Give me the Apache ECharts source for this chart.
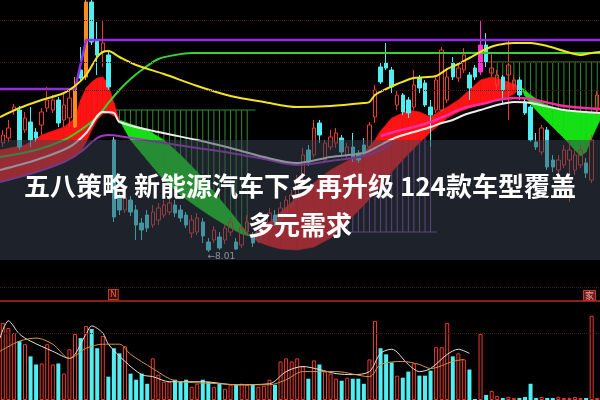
<!DOCTYPE html>
<html><head><meta charset="utf-8">
<script src="https://cdn.jsdelivr.net/npm/echarts@6/dist/echarts.min.js"></script>
<style>html,body{margin:0;padding:0;background:#000}#c{width:600px;height:400px}</style>
</head><body><div id="c"></div>
<script>
// ---- data: candles [open, close, lowest, highest]
const candles = [
[9.10,9.18,9.06,9.23],[9.15,9.25,9.11,9.33],[9.43,9.46,9.38,9.49],[9.43,9.06,9.03,9.47],[9.23,9.35,9.20,9.41],
[9.31,9.13,9.06,9.46],[9.21,9.15,9.11,9.25],[9.28,9.41,9.18,9.45],[9.45,9.53,9.41,9.66],[9.43,9.53,9.40,9.58],
[9.53,9.30,9.26,9.56],[9.33,9.48,9.26,9.61],[9.35,9.55,9.26,9.65],[9.26,9.66,9.25,9.76],[9.83,9.75,9.71,10.06],
[9.76,10.51,9.73,10.53],[10.51,10.11,10.08,10.53],[10.13,9.98,9.78,10.31],[10.01,10.10,9.86,10.33],[9.98,9.66,9.63,10.01],
[9.13,8.36,8.31,9.16],[8.56,8.43,8.38,8.60],[8.43,8.55,8.40,8.63],[8.53,8.41,8.37,8.57],[8.43,8.28,8.13,8.48],
[8.30,8.23,8.13,8.35],[8.38,8.25,8.21,8.43],[8.28,8.41,8.25,8.48],[8.33,8.45,8.28,8.50],[8.38,8.48,8.35,8.53],
[8.41,8.50,8.38,8.56],[8.48,8.40,8.36,8.53],[8.43,8.35,8.31,8.48],[8.38,8.28,8.25,8.41],[8.20,8.33,8.15,8.38],
[8.21,8.35,8.18,8.40],[8.31,8.17,8.10,8.35],[8.11,8.03,8.01,8.15],[8.13,8.23,8.10,8.27],[8.16,8.05,8.03,8.21],
[8.13,8.25,8.09,8.29],[8.21,8.31,8.17,8.35],[8.11,8.04,8.03,8.15],[8.08,8.25,8.05,8.28],[8.21,8.31,8.17,8.38],
[8.18,8.10,8.06,8.21],[8.13,8.25,8.10,8.28],[8.23,8.33,8.19,8.38],[8.28,8.40,8.25,8.45],[8.38,8.31,8.27,8.43],
[8.33,8.45,8.29,8.51],[8.41,8.53,8.38,8.57],[8.48,8.58,8.45,8.63],[8.58,8.73,8.53,8.78],[8.78,8.98,8.73,9.05],
[9.03,8.91,8.87,9.08],[8.98,9.25,8.95,9.33],[9.30,9.18,9.10,9.33],[8.93,9.10,8.91,9.13],[9.06,9.16,9.03,9.23],
[9.10,9.20,9.05,9.25],[9.15,9.01,8.98,9.18],[8.98,9.06,8.95,9.10],[9.06,8.95,8.91,9.20],[9.00,8.93,8.90,9.03],
[9.08,9.01,8.98,9.15],[9.06,9.28,9.03,9.31],[9.36,9.63,9.30,9.68],[9.86,9.71,9.69,9.91],[9.90,9.85,9.83,10.10],
[9.83,9.66,9.60,9.86],[9.48,9.58,9.43,9.63],[9.58,9.41,9.38,9.60],[9.53,9.40,9.35,9.56],[9.46,9.68,9.43,9.83],
[9.75,9.65,9.60,9.78],[9.70,9.48,9.46,9.73],[9.46,9.38,9.06,9.53],[9.43,9.73,9.40,9.78],[9.43,10.03,9.41,10.06],
[9.53,9.76,9.50,9.83],[9.90,9.76,9.73,9.96],[9.75,9.85,9.71,9.90],[9.83,9.98,9.80,10.05],[9.78,9.65,9.53,9.81],
[9.85,9.76,9.73,9.88],[9.81,10.08,9.78,10.33],[10.08,9.91,9.86,10.20],[9.80,9.85,9.77,10.00],[9.68,9.78,9.63,9.83],
[9.76,9.63,9.50,9.78],[9.78,9.88,9.33,10.13],[9.68,9.73,9.63,9.78],[9.73,9.58,9.53,9.76],[9.51,9.40,9.38,9.55],
[9.46,9.13,9.11,9.48],[9.11,9.06,9.03,9.20],[9.01,9.25,8.98,9.28],[9.23,8.86,8.83,9.26],[8.93,8.86,8.81,8.98],
[8.83,8.93,8.78,8.98],[8.88,9.03,8.85,9.08],[8.93,9.03,8.51,9.13],[8.83,8.98,8.78,9.03],[8.88,9.03,8.85,9.08],
[8.90,8.80,8.75,8.95],[8.73,9.13,8.70,9.18],[9.43,9.58,9.38,9.63]
];
const orangeDays = [13, 15];
const magentaDays = [86];

const volumes = [
38,35.5,33,29,27.5,21.5,17.5,18,27.5,17.5,
18,13,25,32.5,30.5,36.5,35,25.5,31.5,11.5,
25.5,23,26.5,13,10,13,8,20.5,12.5,9,
9,10,9,10,6.5,8,10,9,6.5,8,
5.5,7.5,7.5,8,7.5,7.5,6.5,7,10,7.5,
19,20.5,19,20.5,16.5,10.5,19.5,17.5,14,13,
10.5,9.5,11,10.5,10.5,8,20,39,25.5,22.5,
18.5,12,11,14,18,12,12,14.5,26,26,
38,21.5,23,20,15,0.5,32.5,2.5,4.5,2,
1,1.5,1,1,1.5,8,1,1.5,1,1,
1.5,1,1,1.5,1,1,41.5,1
];

// indicator lines: [day index, price]
const yellowLine = [[-0.5,9.36],[3,9.45],[7,9.53],[11,9.60],[13,9.67],[15,9.78],[17,9.96],[18,10.01],[19,10.02],[21,9.96],[24,9.88],[29,9.79],[35,9.67],[41,9.57],[47,9.51],[53,9.46],[59,9.47],[65,9.50],[66,9.51],[67,9.58],[69,9.64],[71,9.69],[74,9.75],[78,9.77],[80,9.84],[82,9.89],[84,9.95],[87,10.04],[89,10.08],[92,10.10],[95,10.10],[98,10.07],[101,10.02],[104,9.98],[106,10.00],[107.5,10.01]];
const greenLine = [[-0.5,8.96],[6,9.03],[11,9.13],[14,9.23],[17,9.36],[19,9.50],[21,9.63],[23,9.74],[25,9.83],[28,9.94],[31,9.98],[34,10.00],[60,10.00],[107.5,10.00]];
const purpleStep = [[-0.5,9.64],[13,9.64],[15,10.13],[107.5,10.13]];
const whiteLine = [[-0.5,8.83],[6,8.93],[12,9.06],[15,9.20],[18,9.41],[20,9.40],[21,9.31],[28,9.21],[35,9.13],[41,9.05],[47,8.96],[53,8.90],[59,8.96],[65,9.00],[67,9.05],[69,9.11],[71,9.16],[74,9.21],[77,9.26],[79,9.30],[81,9.33],[83,9.38],[86,9.43],[89,9.48],[92,9.51],[95,9.50],[101,9.43],[107.5,9.40]];
const purpleLine = [[-0.5,8.71],[6,8.81],[11,8.91],[14,9.01],[17,9.15],[19,9.18],[22,9.16],[29,9.10],[35,9.05],[41,9.00],[47,8.94],[53,8.88],[59,8.92],[65,8.97],[68,9.03],[70,9.10]];
const magentaLine = [[68,9.17],[71,9.22],[74,9.26],[77,9.31],[80,9.38],[83,9.45],[87,9.50],[89,9.53],[92,9.55],[95,9.54],[101,9.47],[107.5,9.44]];

// ribbon (fast line vs slow line)
const ribbonIdx  = [-0.5,4,7,11,13,14,15,16,17,18,19,20,21,23,26,29,32,35,38,41,43,44.5,46,48,50,53,56,59,62,65,67,68,70,72,73,75,77,79,80,82,84,86,88,90,92,93.2,94,95,97,99,101,103,104,105,106,107.5];
const ribbonFast = [9.03,9.08,9.18,9.26,9.35,9.53,9.65,9.71,9.75,9.76,9.69,9.50,9.33,9.13,8.93,8.73,8.58,8.46,8.35,8.25,8.19,8.17,8.22,8.31,8.41,8.56,8.70,8.83,8.92,9.01,9.13,9.22,9.35,9.40,9.43,9.41,9.36,9.43,9.46,9.53,9.63,9.73,9.76,9.73,9.69,9.66,9.57,9.49,9.37,9.26,9.15,9.03,8.97,9.01,9.15,9.33];
const ribbonSlow = [8.71,8.77,8.83,8.91,8.96,9.01,9.11,9.23,9.33,9.39,9.40,9.37,9.33,9.29,9.23,9.13,8.98,8.81,8.61,8.41,8.27,8.17,8.11,8.07,8.04,8.03,8.06,8.15,8.31,8.48,8.60,8.67,8.81,8.93,8.99,9.10,9.21,9.30,9.35,9.41,9.45,9.49,9.52,9.54,9.59,9.66,9.63,9.58,9.50,9.46,9.43,9.42,9.41,9.41,9.40,9.40];

// histogram sticks
const histLeftStart = 21, histLeftLevel = 9.43, histLeftSpan = [20, 45.5];
const histLeftLow = [9.33,9.23,9.13,9.06,8.99,8.93,8.86,8.79,8.73,8.68,8.63,8.58,8.54,8.50,8.46,8.42,8.38,8.35,8.32,8.28,8.25,8.22,8.19,8.17];
const histRightStart = 88, histRightLevel = 9.91, histRightSpan = [87.5, 107.5];
const histRightLow = [9.76,9.75,9.73,9.71,9.69,9.65,9.57,9.49,9.43,9.37,9.31,9.26,9.20,9.15,9.09,9.03,8.97,9.01,9.15,9.30];
const histPurpleStart = 62, histPurpleBase = 8.21, histPurpleSpan = [61.5, 78.2];
const histPurpleHigh = [8.31,8.37,8.42,8.48,8.54,8.60,8.67,8.74,8.81,8.87,8.93,8.99,9.05,9.10,9.16,9.21];

const priceGridLevels = [10.33, 9.91, 9.63];
const volRedLevel = 49;
const volGridLevels = [55.5, 33];

const volMaWhite = [[-0.5,30.5],[1,39],[3,32.5],[5,29],[9,24],[12,20.5],[15,32.5],[16,36.5],[18,33],[19,27.5],[22,19],[25,12.5],[27,11.5],[30,9],[36,9],[42,7.5],[48,8],[51,14],[54,16.5],[57,15],[60,13],[63,12.5],[66,14],[68,23],[70,25],[73,17.5],[75,14],[77,15.5],[80,22.5],[82,25],[84,23]];
const volMaOrange = [[-0.5,24],[3,29],[6,30.5],[9,27.5],[12,20.5],[15,25.5],[18,27.5],[21,27.5],[23,22.5],[27,15.5],[30,10.5],[32,9],[39,8],[42,7.5],[48,7.5],[51,10],[54,14],[60,14],[66,11.5],[68,17.5],[72,19],[75,17.5],[77,15.5],[81,19],[83,20]];

const titleText = '五八策略 新能源汽车下乡再升级 124款车型覆盖\n多元需求';

// ---- styles
const C = {
  up: '#f0382e', down: '#4eeef2', orange: '#ff8c1a', magenta: '#ff33cc',
  yellow: '#f2e41e', green: '#34d234', purple: '#8e2fe6', white: '#ececec',
  purple2: '#a834c8', pink: '#ff2aa6', fillUp: '#ff1414', fillDn: '#14e014',
  histG: '#2f8f2f', histP: '#8a4aa8', grid: '#4a1313'
};

const categories = candles.map((_, i) => String(i + 1));
const candleData = candles.map((c, i) => {
  let col = null;
  if (orangeDays.includes(i)) col = C.orange;
  if (magentaDays.includes(i)) col = C.magenta;
  return col ? { value: c, itemStyle: { color: col, borderColor: col, color0: col, borderColor0: col } } : c;
});
const volData = volumes.map((v, i) => {
  const up = candles[i][1] >= candles[i][0];
  return { value: v, itemStyle: up ? { color: 'rgba(0,0,0,0)', borderColor: C.up, borderWidth: 1 } : { color: C.down } };
});
const ribbonSegs = [];
for (let k = 0; k < ribbonIdx.length - 1; k++) {
  ribbonSegs.push([ribbonIdx[k], ribbonFast[k], ribbonSlow[k], ribbonIdx[k+1], ribbonFast[k+1], ribbonSlow[k+1]]);
}
function vline(color) {
  return function (params, api) {
    const a = api.coord([api.value(0), api.value(1)]);
    const b = api.coord([api.value(0), api.value(2)]);
    return { type: 'line', shape: { x1: a[0], y1: a[1], x2: b[0], y2: b[1] }, style: { stroke: color, lineWidth: 1 } };
  };
}
function lineSeries(data, color, width, z, smooth, xi, yi) {
  return { type: 'line', data, xAxisIndex: xi === undefined ? 1 : xi, yAxisIndex: yi === undefined ? 0 : yi,
    showSymbol: false, symbol: 'none', smooth: smooth, z: z, silent: true,
    lineStyle: { color: color, width: width } };
}

const option = {
  backgroundColor: '#000',
  animation: false,
  title: {
    text: titleText, left: 'center', top: 162, z: 60,
    textStyle: { color: '#ffffff', fontSize: 26, fontWeight: 'bold', lineHeight: 39, fontFamily: 'Noto Sans CJK SC' }
  },
  grid: [
    { left: 0, right: 0, top: 0, height: 262 },
    { left: 0, right: 0, top: 262, bottom: 0 }
  ],
  xAxis: [
    { type: 'category', gridIndex: 0, data: categories, show: false, boundaryGap: true },
    { type: 'value', gridIndex: 0, min: -0.5, max: 107.5, show: false },
    { type: 'category', gridIndex: 1, data: categories, show: false, boundaryGap: true },
    { type: 'value', gridIndex: 1, min: -0.5, max: 107.5, show: false }
  ],
  yAxis: [
    { type: 'value', gridIndex: 0, min: 7.91, max: 10.53, show: false, splitLine: { show: false } },
    { type: 'value', gridIndex: 1, min: 0, max: 68, show: false, splitLine: { show: false } }
  ],
  graphic: [
    { type: 'rect', z: 50, shape: { x: 0, y: 140, width: 600, height: 120 }, style: { fill: 'rgba(58,66,82,0.52)' } },
    { type: 'text', z: 5, x: 109, y: 290, style: { text: 'N', fill: '#e05a3a', fontSize: 9, fontFamily: 'DejaVu Sans', backgroundColor: '#3a0e0a', borderColor: '#c03a2a', borderWidth: 1, padding: [0, 1] } },
    { type: 'text', z: 5, x: 584, y: 291, style: { text: '家', fill: '#f0a0a0', fontSize: 9, fontFamily: 'Noto Sans CJK SC', backgroundColor: '#6a1a1a', borderColor: '#c03a2a', borderWidth: 1, padding: [0, 1] } }
  ],
  series: [
    // histogram sticks
    { type: 'custom', xAxisIndex: 1, yAxisIndex: 0, z: 1, silent: true, renderItem: vline(C.histG), encode: { x: 0, y: [1, 2] },
      data: histLeftLow.map((v, k) => [histLeftStart + k, histLeftLevel, v]) },
    { type: 'custom', xAxisIndex: 1, yAxisIndex: 0, z: 1, silent: true, renderItem: vline(C.histG), encode: { x: 0, y: [1, 2] },
      data: histRightLow.map((v, k) => [histRightStart + k, histRightLevel, v]) },
    { type: 'custom', xAxisIndex: 1, yAxisIndex: 0, z: 1, silent: true, renderItem: vline(C.histP), encode: { x: 0, y: [1, 2] },
      data: histPurpleHigh.map((v, k) => [histPurpleStart + k, histPurpleBase, v]) },
    lineSeries(histLeftSpan.map(x => [x, histLeftLevel]), C.histG, 1, 1, false),
    lineSeries(histRightSpan.map(x => [x, histRightLevel]), C.histG, 1, 1, false),
    lineSeries(histPurpleSpan.map(x => [x, histPurpleBase]), C.histP, 1, 1, false),
    // ribbon fill
    { type: 'custom', xAxisIndex: 1, yAxisIndex: 0, z: 2, silent: true, encode: { x: [0, 3], y: [1, 2, 4, 5] },
      data: ribbonSegs,
      renderItem: function (params, api) {
        const x0 = api.value(0), a0 = api.value(1), c0 = api.value(2), x1 = api.value(3), a1 = api.value(4), c1 = api.value(5);
        const pts = [api.coord([x0, a0]), api.coord([x1, a1]), api.coord([x1, c1]), api.coord([x0, c0])];
        const col = (a0 + a1) >= (c0 + c1) ? C.fillUp : C.fillDn;
        return { type: 'polygon', shape: { points: pts }, style: { fill: col, stroke: col, lineWidth: 0.6 } };
      } },
    // candles
    { type: 'candlestick', xAxisIndex: 0, yAxisIndex: 0, z: 3, barWidth: 4, data: candleData, silent: true,
      itemStyle: { color: 'rgba(0,0,0,0)', color0: C.down, borderColor: C.up, borderColor0: C.down, borderWidth: 1 },
      markLine: { silent: true, symbol: 'none', label: { show: false },
        lineStyle: { color: C.grid, type: 'dotted', width: 1 },
        data: priceGridLevels.map(v => ({ yAxis: v })) },
      markPoint: { symbol: 'circle', symbolSize: 1, itemStyle: { color: 'rgba(0,0,0,0)' },
        data: [{ type: 'min', valueDim: 'lowest' }],
        label: { show: true, position: 'bottom', distance: 1, offset: [13, -1], color: '#e0e0e0', fontSize: 9,
          fontFamily: 'DejaVu Sans', formatter: p => '\u2190' + Number(p.value).toFixed(2) } } },
    // indicator lines
    lineSeries(purpleStep, C.purple, 2.5, 4, false),
    lineSeries(greenLine, C.green, 2, 4, 0.3),
    lineSeries(yellowLine, C.yellow, 2, 4, 0.3),
    lineSeries(purpleLine, C.purple2, 2, 4, 0.3),
    lineSeries(whiteLine, C.white, 2, 4, 0.3),
    lineSeries(magentaLine, C.pink, 2.5, 4, 0.3),
    // volume
    { type: 'bar', xAxisIndex: 2, yAxisIndex: 1, barWidth: 4, data: volData, silent: true, z: 3,
      markLine: { silent: true, symbol: 'none', label: { show: false },
        data: [
          { yAxis: volRedLevel, lineStyle: { color: '#b82a24', width: 1.5, type: 'solid' } },
          ...volGridLevels.map(v => ({ yAxis: v, lineStyle: { color: '#3a1a1a', width: 1, type: 'dotted' } }))
        ] } },
    lineSeries(volMaWhite, '#e6dede', 1, 4, 0.3, 3, 1),
    lineSeries(volMaOrange, '#d4963e', 1, 4, 0.3, 3, 1)
  ]
};
const chart = echarts.init(document.getElementById('c'));
chart.setOption(option);
</script></body></html>
